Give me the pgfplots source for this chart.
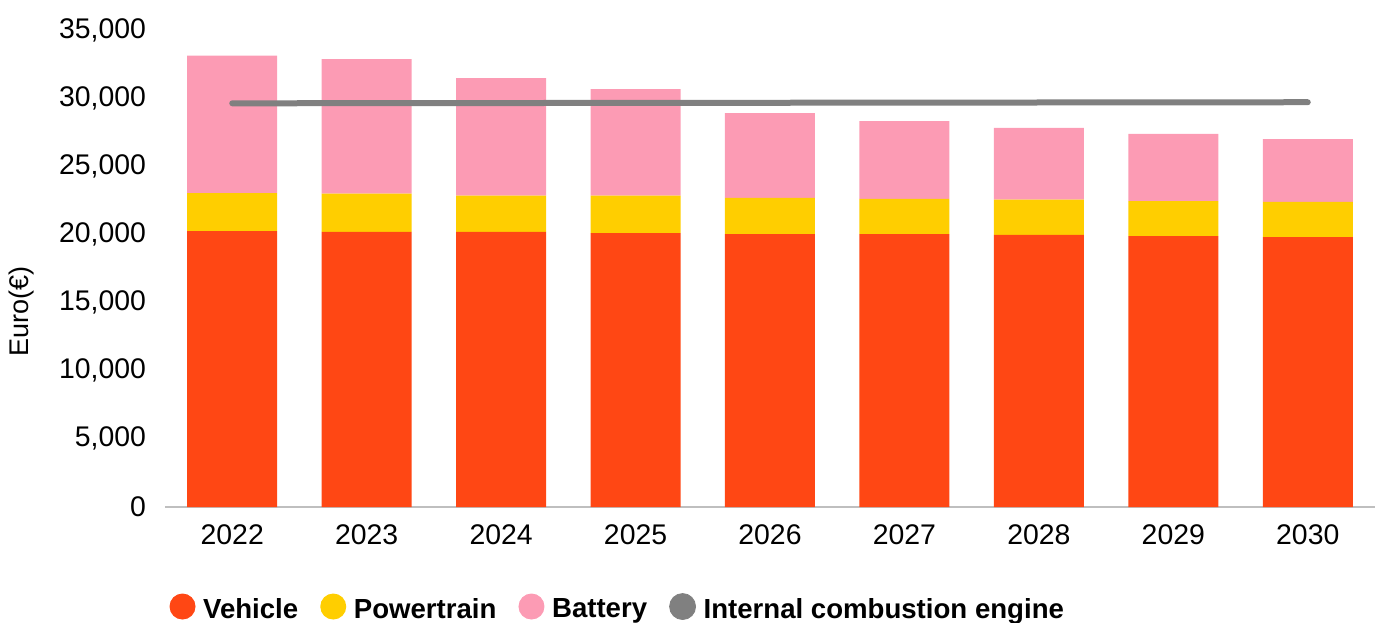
\documentclass[border=0pt]{standalone}
\usepackage{fontspec}
\setmainfont{Liberation Sans}
\usepackage{pgfplots}
\usepackage{pgfplotstable}
\pgfplotsset{compat=1.18}
\definecolor{veh}{HTML}{FF4714}
\definecolor{pwt}{HTML}{FFCE00}
\definecolor{bat}{HTML}{FC9BB4}
\definecolor{ice}{HTML}{808080}
\definecolor{axg}{HTML}{BFBFBF}

\pgfplotstableread{
x V P B
0 20250 2790 10080
1 20180 2810 9880
2 20180 2660 8630
3 20100 2740 7830
4 20030 2660 6220
5 20030 2570 5720
6 19960 2590 5260
7 19880 2570 4920
8 19810 2570 4620
}\costs

\pgfplotstableread{
x ICE
0 29620
1 29630
2 29640
3 29650
4 29660
5 29670
6 29680
7 29690
8 29700
}\ice

\pgfplotsset{
  common/.style={
    at={(0,0)}, anchor=south west, scale only axis,
    width=605pt, height=238.5pt,
    xmin=-0.5, xmax=8.5, ymin=0, ymax=35000,
  }
}

\begin{document}
\begin{tikzpicture}
\begin{axis}[
  common,
  ybar stacked, bar width=45pt,
  axis x line*=bottom, axis y line*=left,
  y axis line style={draw=none},
  x axis line style={draw=axg, line width=0.8pt},
  major tick length=0pt,
  xtick={0,...,8},
  xticklabels={2022,2023,2024,2025,2026,2027,2028,2029,2030},
  ytick={0,5000,...,35000},
  scaled y ticks=false,
  /pgf/number format/.cd, 1000 sep={,}, assume math mode=true, /pgfplots/.cd,
  tick label style={font=\fontsize{14.2}{17}\selectfont},
  xticklabel style={yshift=-5.5pt},
  yticklabel style={xshift=-6pt},
  ylabel={Euro(€)},
  ylabel style={at={(axis description cs:-0.1185,0.41)}, anchor=center, font=\fontsize{13.5}{16}\selectfont},
  legend columns=4,
  legend style={draw=none, fill=none, at={(axis description cs:0.375,-0.214)}, anchor=center,
    font=\bfseries\fontsize{13.8}{16}\selectfont, inner sep=0pt,
    /tikz/every odd column/.append style={column sep=1.8pt},
    /tikz/every even column/.append style={column sep=9pt}},
]
\addplot[fill=veh, draw=none, legend image code/.code={\fill[veh] (6.5pt,0.15em) circle (6.5pt);}] table[x=x,y=V]{\costs};
\addlegendentry{Vehicle}
\addplot[fill=pwt, draw=none, legend image code/.code={\fill[pwt] (6.5pt,0.15em) circle (6.5pt);}] table[x=x,y=P]{\costs};
\addlegendentry{Powertrain}
\addplot[fill=bat, draw=none, legend image code/.code={\fill[bat] (6.5pt,0.15em) circle (6.5pt);}] table[x=x,y=B]{\costs};
\addlegendentry{Battery}
\addlegendimage{legend image code/.code={\fill[ice] (6.5pt,0.15em) circle (6.5pt);}}
\addlegendentry{Internal combustion engine}
\end{axis}
\begin{axis}[
  common,
  hide axis,
]
\addplot[ice, line width=3pt, line cap=round, mark=none] table[x=x,y=ICE]{\ice};
\end{axis}
\pgfresetboundingbox
\path[use as bounding box] (-82.5pt,-57.5pt) rectangle (605pt,253.5pt);
\end{tikzpicture}
\end{document}
